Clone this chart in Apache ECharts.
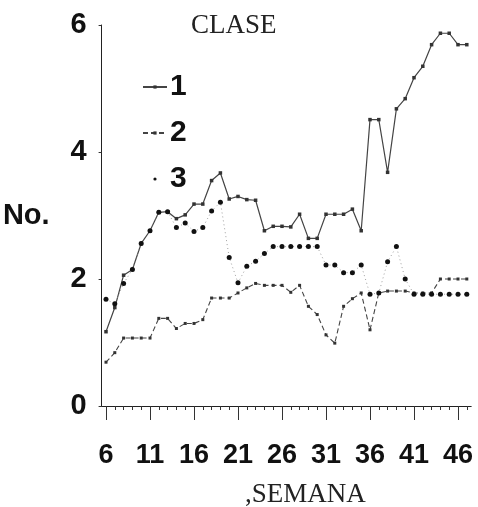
<!DOCTYPE html>
<html>
<head>
<meta charset="utf-8">
<script src="https://cdn.jsdelivr.net/npm/echarts@6/dist/echarts.min.js"></script>
<style>
html,body{margin:0;padding:0;background:#fff;}
#c{width:478px;height:507px;}
</style>
</head>
<body>
<div id="c"></div>
<script>
const weeks = ['6','7','8','9','10','11','12','13','14','15','16','17','18','19','20','21','22','23','24','25','26','27','28','29','30','31','32','33','34','35','36','37','38','39','40','41','42','43','44','45','46','47'];
const clase1 = [1.17,1.55,2.06,2.15,2.56,2.76,3.05,3.06,2.95,3.01,3.18,3.18,3.55,3.67,3.26,3.30,3.25,3.24,2.76,2.83,2.83,2.82,3.02,2.64,2.64,3.02,3.02,3.02,3.10,2.76,4.51,4.51,3.68,4.68,4.84,5.17,5.35,5.69,5.87,5.87,5.69,5.69];
const clase2 = [0.69,0.84,1.07,1.07,1.07,1.07,1.38,1.38,1.22,1.30,1.30,1.36,1.70,1.70,1.70,1.78,1.86,1.93,1.90,1.90,1.90,1.79,1.90,1.57,1.44,1.12,0.99,1.57,1.69,1.78,1.20,1.78,1.81,1.81,1.81,1.78,1.78,1.78,2.00,2.00,2.00,2.00];
const clase3 = [1.68,1.61,1.93,2.15,2.56,2.76,3.05,3.06,2.81,2.88,2.75,2.81,3.07,3.21,2.34,1.94,2.20,2.28,2.40,2.51,2.51,2.51,2.51,2.51,2.51,2.22,2.22,2.10,2.10,2.22,1.76,1.78,2.27,2.51,2.00,1.76,1.76,1.76,1.76,1.76,1.76,1.76];
const yTicks = [0, 2, 4, 6];

const chart = echarts.init(document.getElementById('c'), null, {renderer:'canvas'});
const majorEvery = function(i){ return i % 5 === 0; };
chart.setOption({
  animation:false,
  backgroundColor:'#fff',
  title:[
    {text:'CLASE', left:186, top:7, textStyle:{fontFamily:'Liberation Serif', fontWeight:'normal', fontSize:27, color:'#222'}},
    {text:',SEMANA', left:240, top:476, textStyle:{fontFamily:'Liberation Serif', fontWeight:'normal', fontSize:27, color:'#222'}}
  ],
  legend:{
    orient:'vertical', left:137, top:67, itemWidth:24, itemHeight:4, itemGap:16,
    textStyle:{fontFamily:'Liberation Sans', fontWeight:'bold', fontSize:30, color:'#111', padding:[0,0,0,-2]},
    data:[
      {name:'1'},
      {name:'2'},
      {name:'3', lineStyle:{opacity:0}}
    ]
  },
  grid:{left:101.6, top:25, width:369.6, height:381, containLabel:false, outerBoundsMode:'none'},
  xAxis:[
    {type:'category', data:weeks, boundaryGap:true, position:'bottom',
     axisLine:{show:true, onZero:false, lineStyle:{color:'#222', width:1}},
     axisTick:{show:true, alignWithLabel:true, interval:majorEvery, length:14, lineStyle:{color:'#333'}},
     axisLabel:{show:true, interval:majorEvery, margin:36, fontFamily:'Liberation Sans Narrow, Liberation Sans', fontWeight:'bold', fontSize:27, color:'#111'},
     splitLine:{show:false}},
    {type:'category', data:weeks, boundaryGap:true, position:'bottom',
     axisLine:{show:false, onZero:false},
     axisTick:{show:true, alignWithLabel:true, interval:0, length:4, lineStyle:{color:'#333'}},
     axisLabel:{show:false}, splitLine:{show:false}}
  ],
  yAxis:{type:'value', min:yTicks[0], max:yTicks[yTicks.length-1], interval:2,
    name:'No.', nameLocation:'middle', nameRotate:0, nameGap:52,
    nameTextStyle:{fontFamily:'Liberation Sans', fontWeight:'bold', fontSize:29, color:'#111', align:'right'},
    axisLine:{show:true, lineStyle:{color:'#222', width:1}},
    axisTick:{show:true, length:3, lineStyle:{color:'#333'}},
    axisLabel:{margin:15, fontFamily:'Liberation Sans', fontWeight:'bold', fontSize:29, color:'#111'},
    splitLine:{show:false}},
  series:[
    {name:'1', type:'line', data:clase1, xAxisIndex:0, symbol:'rect', symbolSize:3.5, showAllSymbol:true,
     itemStyle:{color:'#333'}, lineStyle:{color:'#444', width:1.2, type:'solid'}, z:3},
    {name:'2', type:'line', data:clase2, xAxisIndex:0, symbol:'rect', symbolSize:3, showAllSymbol:true,
     itemStyle:{color:'#333'}, lineStyle:{color:'#444', width:1.1, type:[5,3]}, z:2},
    {name:'3', type:'line', data:clase3, xAxisIndex:0, symbol:'circle', symbolSize:5, showAllSymbol:true,
     itemStyle:{color:'#111'}, lineStyle:{color:'#888', width:0.8, type:[1,3]}, z:4}
  ]
});
</script>
</body>
</html>
